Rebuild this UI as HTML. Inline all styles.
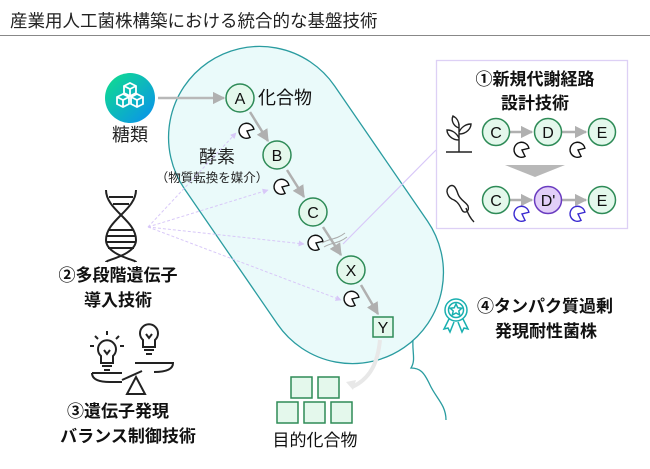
<!DOCTYPE html>
<html><head><meta charset="utf-8"><style>
body{margin:0;background:#fff;width:650px;height:464px;overflow:hidden}
svg text{font-family:"Liberation Sans","Noto Sans CJK JP",sans-serif}
</style></head><body>
<svg width="650" height="464" viewBox="0 0 650 464" xmlns="http://www.w3.org/2000/svg">
<defs>
<linearGradient id="g1" x1="0" y1="0" x2="1" y2="1"><stop offset="0" stop-color="#10e08a"/><stop offset="1" stop-color="#0a8ef0"/></linearGradient>
<marker id="ag" viewBox="0 0 10 10" refX="9" refY="5" markerWidth="5" markerHeight="5" orient="auto"><path d="M0 0L10 5L0 10z" fill="#b0b0b0"/></marker>
<marker id="ap" viewBox="0 0 10 10" refX="9" refY="5" markerWidth="6" markerHeight="6" orient="auto"><path d="M0 0L10 5L0 10z" fill="#d8c8f8"/></marker>
<g id="pac"><path d="M5.5-4.5A7.5 7.5 0 1 0 5.5 4.5L0 0Z" fill="#fff" stroke="#111" stroke-width="1.4" transform="rotate(25)"/></g>
<g id="pacb"><path d="M5.5-4.5A7.5 7.5 0 1 0 5.5 4.5L0 0Z" fill="#fff" stroke="#3a2ad0" stroke-width="1.4" transform="rotate(25)"/></g>
</defs>
<text x="10" y="27" font-size="17.5" fill="#222">産業用人工菌株構築における統合的な基盤技術</text>
<line x1="0" y1="35.5" x2="650" y2="35.5" stroke="#888" stroke-width="1"/>

<!-- cell -->
<rect x="-173" y="-91" width="346" height="182" rx="91" transform="translate(306,205) rotate(55.5)" fill="#eafafa" stroke="#2a9ca0" stroke-width="1.3"/>
<path d="M413 340 C412 352 416 360 411 368 C420 368 424 372 430 385 C436 398 446 405 446 420" fill="none" stroke="#2a9ca0" stroke-width="1.3"/>

<line x1="343" y1="244" x2="436" y2="150" stroke="#d8c8f8" stroke-width="1.2"/>
<rect x="436.5" y="60.5" width="191" height="168" fill="#fff" stroke="#ddd0f5" stroke-width="1.3"/>

<!-- sugar -->
<circle cx="130" cy="98" r="25" fill="url(#g1)"/>
<g fill="none" stroke="#fff" stroke-width="1.8">
<path d="M124 86l6-3 6 3v7l-6 3-6-3z M124 86l6 3 6-3 M130 89v7"/>
<path d="M117 97l6-3 6 3v7l-6 3-6-3z M117 97l6 3 6-3 M123 100v7"/>
<path d="M131 97l6-3 6 3v7l-6 3-6-3z M131 97l6 3 6-3 M137 100v7"/>
</g>
<text x="130" y="141" font-size="18" text-anchor="middle" fill="#222">糖類</text>
<line x1="158" y1="98" x2="224" y2="98" stroke="#b8b8b8" stroke-width="2.5" marker-end="url(#ag)"/>

<g stroke="#b0b0b0" stroke-width="2.5" marker-end="url(#ag)">
<line x1="250" y1="112" x2="268" y2="141"/>
<line x1="287" y1="170" x2="304" y2="197"/>
<line x1="323" y1="227" x2="341" y2="255"/>
<line x1="361" y1="285" x2="378" y2="314"/>
</g>
<g fill="#e4f8ec" stroke="#2e8b57" stroke-width="1.5">
<circle cx="240" cy="98" r="14"/><circle cx="277" cy="155" r="14"/><circle cx="313" cy="212" r="14"/><circle cx="351" cy="270" r="14"/>
<rect x="373" y="317" width="20" height="20"/>
</g>
<g font-size="16" text-anchor="middle" fill="#111">
<text x="240" y="104">A</text><text x="277" y="161">B</text><text x="313" y="218">C</text><text x="351" y="276">X</text><text x="383" y="333">Y</text>
</g>
<text x="258" y="104" font-size="18" fill="#111">化合物</text>
<use href="#pac" x="247" y="131"/><use href="#pac" x="282" y="187"/><use href="#pac" x="316" y="243"/><use href="#pac" x="352" y="299"/>
<path d="M322 243 C330 238 336 240 345 233 M324 247 C332 242 338 244 347 237" fill="none" stroke="#aaa" stroke-width="1"/>
<text x="217" y="163" font-size="18" text-anchor="middle" fill="#222">酵素</text>
<text x="212" y="182" font-size="12.5" text-anchor="middle" fill="#222">（物質転換を媒介）</text>

<!-- DNA -->
<g fill="none" stroke="#222" stroke-width="2">
<path d="M106 190 C106 210 136 220 136 240 C136 255 106 260 106 262"/>
<path d="M136 190 C136 210 106 220 106 240 C106 255 136 260 136 262"/>
<line x1="109" y1="197" x2="133" y2="197"/><line x1="113" y1="204" x2="129" y2="204"/>
<line x1="108" y1="230" x2="134" y2="230"/><line x1="107" y1="236" x2="135" y2="236"/><line x1="107" y1="242" x2="135" y2="242"/><line x1="108" y1="248" x2="134" y2="248"/>
</g>
<text x="118" y="281" font-size="17" text-anchor="middle" fill="#111" font-weight="bold">②多段階遺伝子</text>
<text x="118" y="306" font-size="17" text-anchor="middle" fill="#111" font-weight="bold">導入技術</text>
<g stroke="#d8c8f8" stroke-width="1" stroke-dasharray="3,2" fill="none" marker-end="url(#ap)">
<line x1="148" y1="227" x2="236" y2="133"/>
<line x1="148" y1="227" x2="268" y2="190"/>
<line x1="148" y1="227" x2="304" y2="244"/>
<line x1="148" y1="227" x2="341" y2="300"/>
</g>

<!-- bulbs & balance -->
<g fill="none" stroke="#222" stroke-width="2">
<path d="M101 356 a9 9 0 1 1 12 0 v7 h-12z M102 366h10 M104 370h6 M104 350l3 4 3-4"/>
<path d="M143 340 a9 9 0 1 1 12 0 v7 h-12z M144 350h10 M146 354h6 M146 334l3 4 3-4"/>
<path d="M90 346h4 M120 346h4 M95 336l3 3 M119 336l-3 3 M107 331v4"/>
<path d="M92 373 h30 M92 373 q0 9 18 9 h12 M135 363 h38 q0 9 -19 9 M122 380 l20 -9 M127 394 l9 -17 l9 17z"/>
</g>
<text x="118" y="417" font-size="17" text-anchor="middle" fill="#111" font-weight="bold">③遺伝子発現</text>
<text x="128" y="442" font-size="17" text-anchor="middle" fill="#111" font-weight="bold">バランス制御技術</text>

<!-- product -->
<path d="M380 340 C378 360 372 378 352 387" fill="none" stroke="#e8e8e8" stroke-width="4"/>
<path d="M346 382 l10 -2 -3 10z" fill="#e8e8e8"/>
<g fill="#e4f8ec" stroke="#2e8b57" stroke-width="1.5">
<rect x="291" y="377" width="21" height="21"/><rect x="318" y="377" width="21" height="21"/>
<rect x="277" y="402" width="21" height="21"/><rect x="304" y="402" width="21" height="21"/><rect x="331" y="402" width="21" height="21"/>
</g>
<text x="315" y="446" font-size="17" text-anchor="middle" fill="#111">目的化合物</text>

<!-- award -->
<g fill="none" stroke="#1ab0b0" stroke-width="1.5">
<circle cx="456" cy="310" r="11"/><circle cx="456" cy="310" r="7.5"/>
<path d="M456 304l1.8 3.8 4 .4-3 2.8 .9 4-3.7-2-3.7 2 .9-4-3-2.8 4-.4z"/>
<path d="M449 319l-5 10 4-1 2 4 4-10 M463 319l5 10-4-1-2 4-4-10"/>
</g>
<text x="545" y="312" font-size="17" text-anchor="middle" fill="#111" font-weight="bold">④タンパク質過剰</text>
<text x="546" y="337" font-size="17" text-anchor="middle" fill="#111" font-weight="bold">発現耐性菌株</text>

<!-- box content -->
<text x="535" y="85" font-size="17" text-anchor="middle" fill="#111" font-weight="bold">①新規代謝経路</text>
<text x="535" y="109" font-size="17" text-anchor="middle" fill="#111" font-weight="bold">設計技術</text>
<g fill="none" stroke="#222" stroke-width="1.4">
<path d="M446 152 h26 M459 152 v-28 M459 140 c-8 0 -12-6 -12-10 c6 0 10 4 12 8 M459 134 c8 0 12-6 12-10 c-6 0-10 4-12 8 M459 128 c-6-2 -8-8 -6-12 c4 2 6 6 6 10"/>
<path d="M450 186 c-6 4 -2 12 4 14 c4 2 6 6 8 10 c2 4 8 2 6-4 c-2-4 -8-6 -10-12 c-2-6 -4-10 -8-8z M466 208 c2 6 4 10 8 14"/>
</g>
<g stroke="#b0b0b0" stroke-width="2.5" marker-end="url(#ag)">
<line x1="510" y1="132" x2="532" y2="132"/><line x1="562" y1="132" x2="586" y2="132"/>
<line x1="510" y1="200" x2="532" y2="200"/><line x1="562" y1="200" x2="586" y2="200"/>
</g>
<g fill="#e4f8ec" stroke="#2e8b57" stroke-width="1.5">
<circle cx="496" cy="132" r="13.5"/><circle cx="548" cy="132" r="13.5"/><circle cx="602" cy="132" r="13.5"/>
<circle cx="496" cy="200" r="13.5"/><circle cx="602" cy="200" r="13.5"/>
</g>
<circle cx="548" cy="200" r="13.5" fill="#e2cff8" stroke="#6a3cc0" stroke-width="1.5"/>
<g font-size="16" text-anchor="middle" fill="#111">
<text x="496" y="138">C</text><text x="548" y="138">D</text><text x="602" y="138">E</text>
<text x="496" y="206">C</text><text x="548" y="206">D'</text><text x="602" y="206">E</text>
</g>
<use href="#pac" x="522" y="150"/><use href="#pac" x="578" y="150"/>
<use href="#pacb" x="522" y="214"/><use href="#pacb" x="578" y="214"/>
<path d="M505 165 h60 l-30 12z" fill="#b8b8b8"/>
</svg>
</body></html>
